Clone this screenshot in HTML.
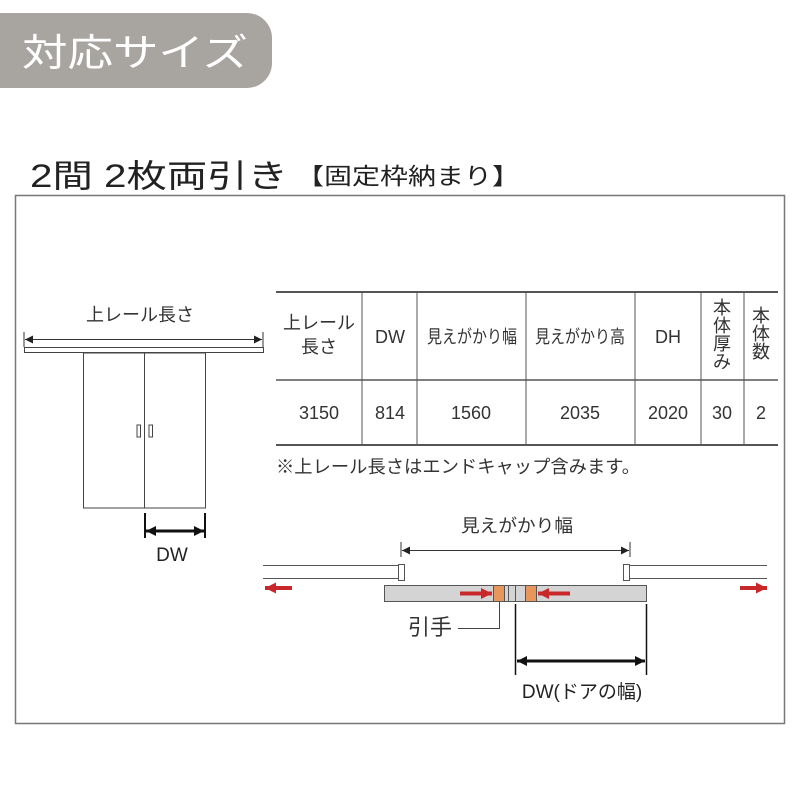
<!DOCTYPE html>
<html><head><meta charset="utf-8"><style>
html,body{margin:0;padding:0;background:#fff;}
svg{display:block;font-family:"Liberation Sans","Noto Sans CJK JP",sans-serif;}
</style></head><body>
<svg width="800" height="800" viewBox="0 0 800 800" xmlns="http://www.w3.org/2000/svg">
<defs>
<marker id="ah" viewBox="0 0 10 10" refX="10" refY="5" markerWidth="8" markerHeight="8" orient="auto-start-reverse" markerUnits="userSpaceOnUse"><path d="M0,0 L10,5 L0,10 z" fill="#222"/></marker>
<marker id="ahb" viewBox="0 0 10 10" refX="10" refY="5" markerWidth="10" markerHeight="10" orient="auto-start-reverse" markerUnits="userSpaceOnUse"><path d="M0,0 L10,5 L0,10 z" fill="#111"/></marker>
<marker id="ar" viewBox="0 0 10 10" refX="10" refY="5" markerWidth="11" markerHeight="11" orient="auto" markerUnits="userSpaceOnUse"><path d="M0,0 L10,5 L0,10 z" fill="#c8282a"/></marker>
</defs>
<path d="M0,13 H247 A25,25 0 0 1 272,38 V63 A25,25 0 0 1 247,88 H0 Z" fill="#a8a5a1"/>
<text x="22" y="66" font-size="38" fill="#fff" textLength="226" lengthAdjust="spacingAndGlyphs">対応サイズ</text>
<text x="30" y="187" font-size="32" fill="#222" textLength="258" lengthAdjust="spacingAndGlyphs">2間  2枚両引き</text>
<text x="296" y="184" font-size="23" fill="#222" textLength="224" lengthAdjust="spacingAndGlyphs">【固定枠納まり】</text>
<rect x="15.5" y="195.5" width="769" height="528" fill="none" stroke="#777" stroke-width="1.5"/>
<text x="140" y="321" font-size="18" text-anchor="middle" fill="#333">上レール長さ</text>
<line x1="24" y1="332" x2="24" y2="347" stroke="#333"/>
<line x1="263" y1="332" x2="263" y2="347" stroke="#333"/>
<line x1="25" y1="339.5" x2="262" y2="339.5" stroke="#333" marker-start="url(#ah)" marker-end="url(#ah)"/>
<rect x="24.5" y="347.5" width="239" height="5" fill="#fff" stroke="#444"/>
<rect x="83.5" y="353" width="122" height="155" fill="#fff" stroke="#444"/>
<line x1="144.5" y1="353" x2="144.5" y2="508" stroke="#444"/>
<rect x="137" y="425" width="3.5" height="12" fill="#fff" stroke="#444"/>
<rect x="149" y="425" width="3.5" height="12" fill="#fff" stroke="#444"/>
<line x1="145" y1="513" x2="145" y2="538" stroke="#111" stroke-width="2"/>
<line x1="205" y1="513" x2="205" y2="538" stroke="#111" stroke-width="2"/>
<line x1="146" y1="531" x2="204" y2="531" stroke="#111" stroke-width="3" marker-start="url(#ahb)" marker-end="url(#ahb)"/>
<text x="172" y="561" font-size="19" text-anchor="middle" fill="#222">DW</text>
<g stroke="#555">
<line x1="276" y1="292" x2="778" y2="292" stroke-width="2"/>
<line x1="276" y1="380" x2="778" y2="380" stroke-width="1.5"/>
<line x1="276" y1="445" x2="778" y2="445" stroke-width="2"/>
<line x1="362" y1="292" x2="362" y2="445"/>
<line x1="417" y1="292" x2="417" y2="445"/>
<line x1="526" y1="292" x2="526" y2="445"/>
<line x1="635" y1="292" x2="635" y2="445"/>
<line x1="701" y1="292" x2="701" y2="445"/>
<line x1="744" y1="292" x2="744" y2="445"/>
</g>
<g font-size="18" fill="#333" text-anchor="middle">
<text x="319" y="329">上レール</text>
<text x="319" y="353">長さ</text>
<text x="390" y="343">DW</text>
<text x="472" y="343" textLength="90" lengthAdjust="spacingAndGlyphs">見えがかり幅</text>
<text x="580" y="343" textLength="90" lengthAdjust="spacingAndGlyphs">見えがかり高</text>
<text x="668" y="343">DH</text>
<text x="722" y="314">本</text><text x="722" y="332">体</text><text x="722" y="350">厚</text><text x="722" y="368">み</text>
<text x="761" y="322">本</text><text x="761" y="340">体</text><text x="761" y="358">数</text>
<text x="319" y="419">3150</text>
<text x="390" y="419">814</text>
<text x="471" y="419">1560</text>
<text x="580" y="419">2035</text>
<text x="668" y="419">2020</text>
<text x="722" y="419">30</text>
<text x="761" y="419">2</text>
</g>
<text x="276" y="473" font-size="18" fill="#333" textLength="364" lengthAdjust="spacingAndGlyphs">※上レール長さはエンドキャップ含みます。</text>
<text x="517" y="532" font-size="18" text-anchor="middle" fill="#333" textLength="112" lengthAdjust="spacingAndGlyphs">見えがかり幅</text>
<line x1="401" y1="542" x2="401" y2="557" stroke="#333"/>
<line x1="630" y1="542" x2="630" y2="557" stroke="#333"/>
<line x1="402" y1="550.5" x2="629" y2="550.5" stroke="#333" marker-start="url(#ah)" marker-end="url(#ah)"/>
<g stroke="#555" fill="#fff">
<line x1="263" y1="565.5" x2="398" y2="565.5"/>
<line x1="263" y1="578.5" x2="398" y2="578.5"/>
<line x1="630" y1="565.5" x2="767" y2="565.5"/>
<line x1="630" y1="578.5" x2="767" y2="578.5"/>
<rect x="398.5" y="564.5" width="6" height="16"/>
<rect x="623.5" y="564.5" width="6" height="16"/>
</g>
<rect x="384.5" y="585.5" width="262" height="16" fill="#d4d4d4" stroke="#555"/>
<rect x="493.5" y="585.5" width="11" height="16" fill="#e8975c" stroke="#555"/>
<rect x="525.5" y="585.5" width="11" height="16" fill="#e8975c" stroke="#555"/>
<line x1="508.5" y1="586" x2="508.5" y2="601" stroke="#555"/>
<line x1="515.5" y1="586" x2="515.5" y2="601" stroke="#555"/>
<g stroke="#c8282a" stroke-width="4">
<line x1="292" y1="588" x2="265" y2="588" marker-end="url(#ar)"/>
<line x1="740" y1="588" x2="767" y2="588" marker-end="url(#ar)"/>
<line x1="460" y1="593.5" x2="492" y2="593.5" marker-end="url(#ar)"/>
<line x1="570" y1="593.5" x2="538" y2="593.5" marker-end="url(#ar)"/>
</g>
<text x="408" y="635" font-size="22" fill="#333">引手</text>
<polyline points="458,628.5 499.5,628.5 499.5,602" fill="none" stroke="#444"/>
<line x1="515.5" y1="604" x2="515.5" y2="675" stroke="#111" stroke-width="1.5"/>
<line x1="646.5" y1="604" x2="646.5" y2="675" stroke="#111" stroke-width="1.5"/>
<line x1="517" y1="661" x2="645" y2="661" stroke="#111" stroke-width="3" marker-start="url(#ahb)" marker-end="url(#ahb)"/>
<text x="582" y="698" font-size="19" text-anchor="middle" fill="#222">DW(ドアの幅)</text>
</svg>
</body></html>
